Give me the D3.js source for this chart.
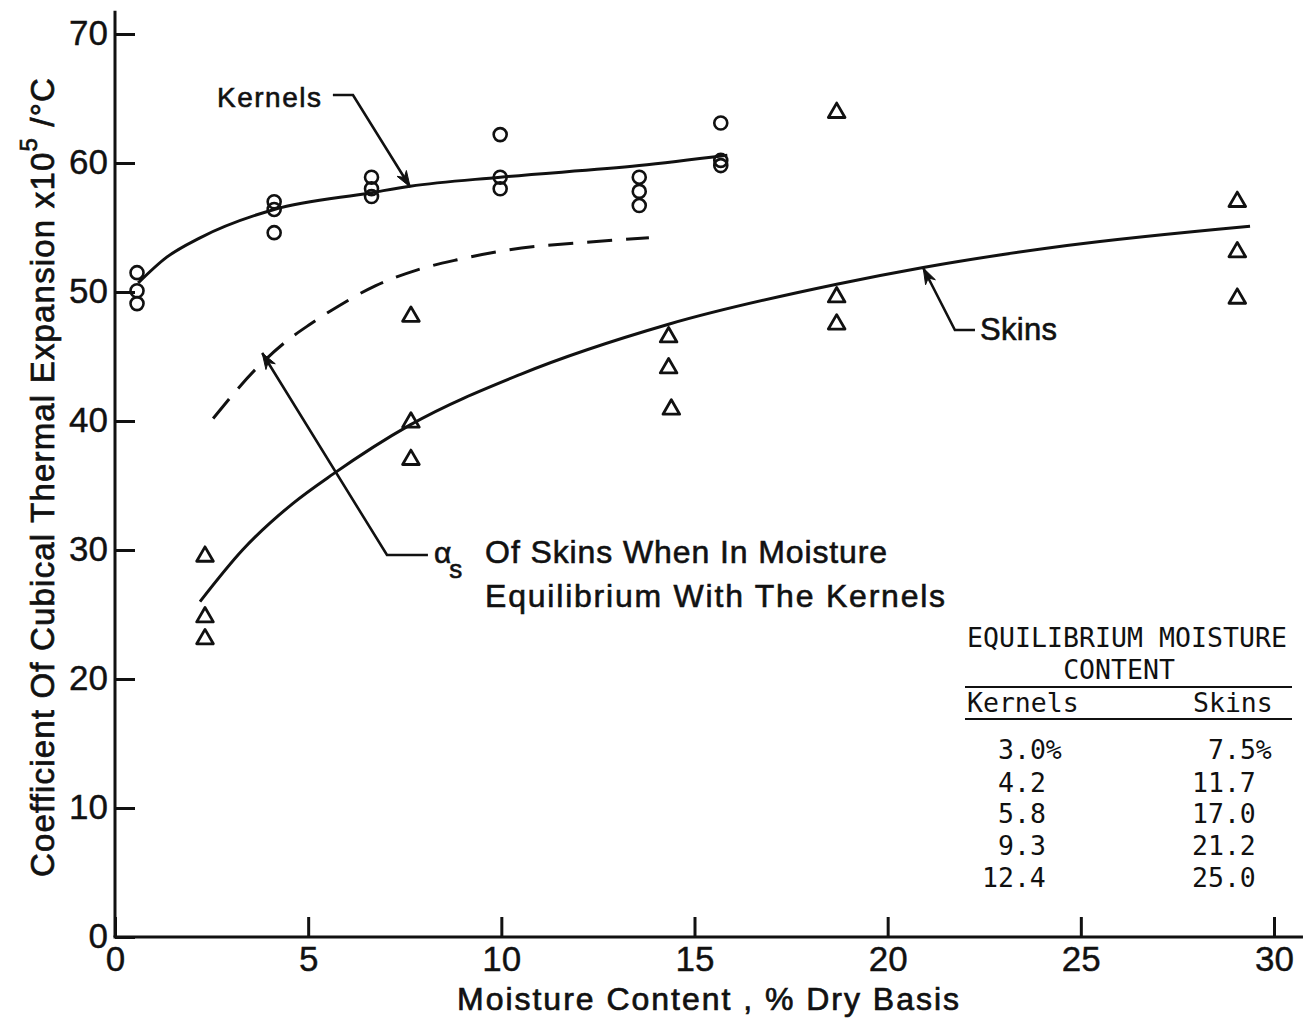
<!DOCTYPE html>
<html><head><meta charset="utf-8">
<script src="https://cdn.jsdelivr.net/npm/d3@7"></script>
<style>body{margin:0;background:#fff}svg{display:block}</style>
</head><body><svg id="chart" width="1303" height="1023"></svg>
<script>
// ---------- data ----------
const xTicks = [0, 5, 10, 15, 20, 25, 30];
const yTicks = [0, 10, 20, 30, 40, 50, 60, 70];

// kernels (circles)
const kernelMoisture = [0.57,0.57,0.57, 4.12,4.12,4.12, 6.64,6.64,6.64, 9.97,9.97,9.97, 13.57,13.57,13.57, 15.68,15.68,15.68];
const kernelAlpha    = [51.5,50.1,49.1, 57.0,56.4,54.6, 58.9,58.0,57.4, 62.2,58.9,58.0, 58.9,57.8,56.7, 63.1,60.2,59.8];

// skins (triangles)
const skinMoisture = [2.33,2.33,2.33, 7.66,7.66,7.66, 14.33,14.33,14.4, 18.68,18.68,18.68, 29.05,29.05,29.05];
const skinAlpha    = [29.5,24.8,23.1, 48.1,39.9,37.0, 46.5,44.1,40.9, 63.9,49.6,47.5, 57.0,53.1,49.5];

// fitted curves
const kernelCurveX = [0.6, 1.34, 2.2, 4.12, 6.64, 7.64, 9.97, 13.57, 15.85];
const kernelCurveY = [50.7, 52.7, 54.2, 56.4, 57.7, 58.2, 58.9, 59.8, 60.6];
const skinCurveX = [2.2, 3.3, 4.6, 5.65, 7.64, 10.48, 14.33, 18.68, 20.92, 24.64, 29.38];
const skinCurveY = [26.0, 30.0, 33.6, 35.9, 39.7, 43.6, 47.5, 50.6, 51.9, 53.6, 55.1];
const equilCurveX = [2.54, 3.77, 4.40, 5.05, 5.78, 6.75, 7.81, 8.86, 10.05, 12.38, 13.82];
const equilCurveY = [40.2, 44.4, 46.1, 47.5, 48.9, 50.5, 51.7, 52.5, 53.2, 53.9, 54.2];

// inset table
const tableTitle = ["EQUILIBRIUM MOISTURE", "CONTENT"];
const tableHeads = ["Kernels", "Skins"];
const tableKernels = ["3.0%", "4.2", "5.8", "9.3", "12.4"];
const tableSkins   = ["7.5%", "11.7", "17.0", "21.2", "25.0"];

// ---------- layout ----------
const W = 1303, H = 1023;
const svg = d3.select("#chart");
svg.append("rect").attr("width", W).attr("height", H).attr("fill", "#fff");

const x = d3.scaleLinear().domain([0, 30]).range([115, 1274]);
const y = d3.scaleLinear().domain([0, 70]).range([937, 34]);

const SANS = "'Liberation Sans', Arial, sans-serif";
const MONO = "'DejaVu Sans Mono', 'Liberation Mono', monospace";
const INK = "#111";

function fit(t, target) {
  t.attr("letter-spacing", 0);
  const n = t.text().length;
  const L = t.node().getComputedTextLength();
  t.attr("letter-spacing", (target - L) / Math.max(n - 1, 1));
  return t;
}

// ---------- curves ----------
const line = d3.line().x(d => x(d[0])).y(d => y(d[1])).curve(d3.curveMonotoneX);
const zipPts = (a, b) => a.map((v, i) => [v, b[i]]);

svg.append("path").datum(zipPts(kernelCurveX, kernelCurveY))
  .attr("d", line).attr("fill", "none").attr("stroke", INK).attr("stroke-width", 3);
svg.append("path").datum(zipPts(skinCurveX, skinCurveY))
  .attr("d", line).attr("fill", "none").attr("stroke", INK).attr("stroke-width", 3);
svg.append("path").datum(zipPts(equilCurveX, equilCurveY))
  .attr("d", line).attr("fill", "none").attr("stroke", INK).attr("stroke-width", 3)
  .attr("stroke-dasharray", "25,14");

// ---------- markers ----------
svg.append("g").selectAll("circle").data(zipPts(kernelMoisture, kernelAlpha)).join("circle")
  .attr("cx", d => x(d[0])).attr("cy", d => y(d[1])).attr("r", 6.5)
  .attr("fill", "none").attr("stroke", INK).attr("stroke-width", 2.6);

const tri = d3.symbol(d3.symbolTriangle, 120);
svg.append("g").selectAll("path").data(zipPts(skinMoisture, skinAlpha)).join("path")
  .attr("d", tri).attr("transform", d => `translate(${x(d[0])},${y(d[1])})`)
  .attr("fill", "none").attr("stroke", INK).attr("stroke-width", 2.8).attr("stroke-linejoin", "round");

// ---------- axes ----------
const xAxis = d3.axisBottom(x).tickValues(xTicks).tickSizeInner(-20).tickSizeOuter(0).tickPadding(9).tickFormat(d3.format("d"));
const yAxis = d3.axisLeft(y).tickValues(yTicks).tickSizeInner(-20).tickSizeOuter(0).tickPadding(7).tickFormat(d3.format("d"));

const gx = svg.append("g").attr("transform", `translate(0,${y(0)})`).call(xAxis);
const gy = svg.append("g").attr("transform", `translate(${x(0)},0)`).call(yAxis);
[gx, gy].forEach(g => {
  g.select(".domain").remove();
  g.selectAll(".tick line").attr("stroke", INK).attr("stroke-width", 3);
  g.selectAll(".tick text").attr("fill", INK).style("font-family", SANS).style("font-size", "35px")
    .attr("stroke", INK).attr("stroke-width", 0.4);
});
gy.selectAll(".tick text").attr("dy", "0.3em");
// axis lines (extend past last tick as in original)
svg.append("line").attr("x1", x(0)).attr("x2", x(0)).attr("y1", y(0)).attr("y2", y(71.8))
  .attr("stroke", INK).attr("stroke-width", 3);
svg.append("line").attr("x1", x(0) - 1.5).attr("x2", x(30.75)).attr("y1", y(0)).attr("y2", y(0))
  .attr("stroke", INK).attr("stroke-width", 3);

// ---------- axis titles ----------
const yl = svg.append("text").attr("transform", "translate(54,477) rotate(-90)")
  .attr("text-anchor", "middle").style("font-family", SANS).style("font-size", "33px")
  .attr("fill", INK).attr("stroke", INK).attr("stroke-width", 0.7);
yl.append("tspan").text("Coefficient Of Cubical Thermal Expansion x10");
yl.append("tspan").attr("dy", -17).style("font-size", "24px").text("5");
yl.append("tspan").attr("dy", 17).text(" /°C");
fit(yl, 799);

const xl = svg.append("text").attr("x", 709).attr("y", 1010).attr("text-anchor", "middle")
  .style("font-family", SANS).style("font-size", "32px")
  .attr("fill", INK).attr("stroke", INK).attr("stroke-width", 0.7)
  .text("Moisture Content , % Dry Basis");
fit(xl, 502);

// ---------- annotations (anchors in data units) ----------
function arrow(pts) {
  const p = pts.map(d => [x(d[0]), y(d[1])]);
  svg.append("path").attr("d", d3.line()(p)).attr("fill", "none").attr("stroke", INK).attr("stroke-width", 2.6);
  const tip = p[p.length - 1], from = p[p.length - 2];
  const a = Math.atan2(tip[1] - from[1], tip[0] - from[0]);
  const L = 16, w = 5.5;
  const pt = (dx, dy) => [tip[0] + dx * Math.cos(a) - dy * Math.sin(a), tip[1] + dx * Math.sin(a) + dy * Math.cos(a)];
  const head = [pt(0, 0), pt(-L, -w), pt(-L * 0.7, 0), pt(-L, w)];
  svg.append("path").attr("d", "M" + head.join("L") + "Z").attr("fill", INK).attr("stroke", INK).attr("stroke-width", 1);
}
function label(txt, px, py, size, len, anchor) {
  const t = svg.append("text").attr("x", px).attr("y", py).attr("text-anchor", anchor || "start")
    .style("font-family", SANS).style("font-size", size + "px")
    .attr("fill", INK).attr("stroke", INK).attr("stroke-width", 0.6).text(txt);
  if (len) fit(t, len);
  return t;
}

// Kernels
arrow([[5.64, 65.27], [6.16, 65.27], [7.64, 58.14]]);
label("Kernels", x(2.64), y(64.34), 28, 104);
// Skins
arrow([[22.26, 47.05], [21.74, 47.05], [20.92, 51.86]]);
label("Skins", x(22.39), y(46.28), 31, 77);
// alpha_s
arrow([[8.10, 29.61], [7.04, 29.61], [3.81, 45.27]]);
label("α", x(8.26), y(28.99), 30);
label("s", x(8.65), y(27.85), 26);
label("Of Skins When In Moisture", x(9.58), y(28.99), 32, 402);
label("Equilibrium With The Kernels", x(9.58), y(25.58), 32, 460);

// ---------- inset table ----------
function mono(txt, px, py, anchor, len) {
  const t = svg.append("text").attr("x", px).attr("y", py).attr("text-anchor", anchor || "start")
    .style("font-family", MONO).style("font-size", "26.5px").attr("fill", INK).text(txt);
  if (len) fit(t, len);
  return t;
}
mono(tableTitle[0], 967, 647, "start", 320);
mono(tableTitle[1], 1119, 679, "middle");
svg.append("line").attr("x1", 965).attr("x2", 1292).attr("y1", 687).attr("y2", 687).attr("stroke", INK).attr("stroke-width", 2.2);
mono(tableHeads[0], 967, 712);
mono(tableHeads[1], 1193, 712);
svg.append("line").attr("x1", 965).attr("x2", 1292).attr("y1", 719).attr("y2", 719).attr("stroke", INK).attr("stroke-width", 2.2);
const rowY = [759, 792, 823, 855, 887];
const cw = 16;
tableKernels.forEach((s, i) => {
  const n = s.replace("%", "").length;
  mono(s, 1046 - n * cw, rowY[i]);
});
tableSkins.forEach((s, i) => {
  const n = s.replace("%", "").length;
  mono(s, 1256 - n * cw, rowY[i]);
});
</script>
</body></html>
